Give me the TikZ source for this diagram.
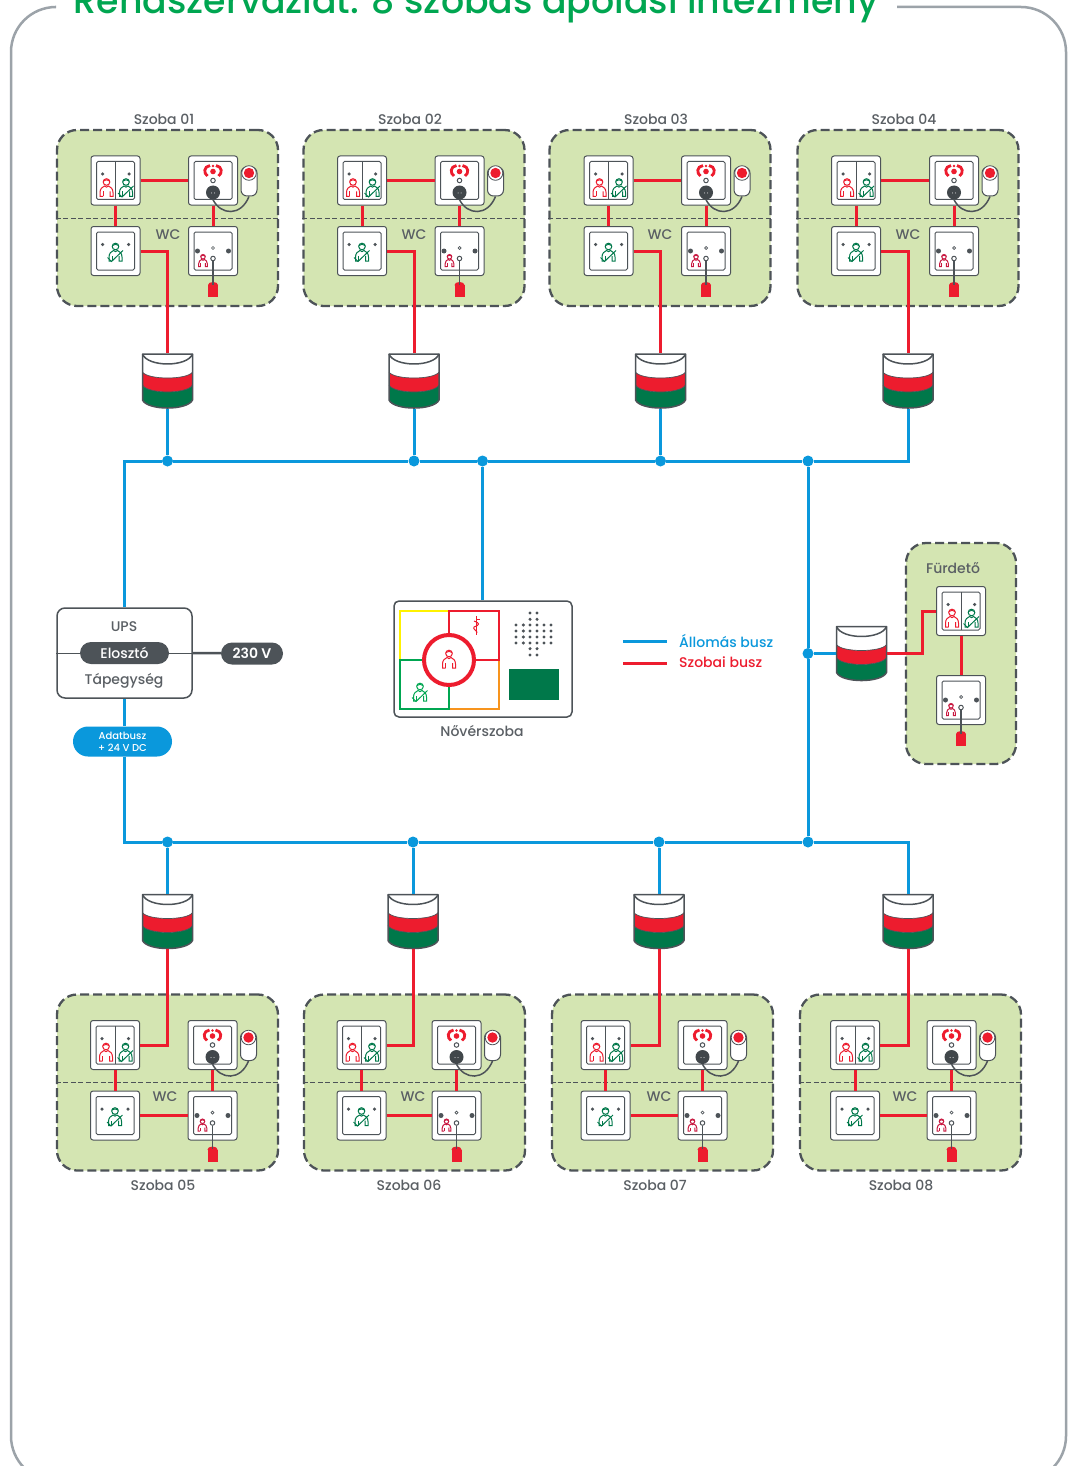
\documentclass[tikz,border=0pt]{standalone}
\usepackage{fontspec}
\setmainfont{Poppins Medium}[BoldFont={Poppins SemiBold}]
\usetikzlibrary{positioning}
\definecolor{busblue}{HTML}{0A98DC}
\definecolor{busred}{HTML}{ED1C2E}
\definecolor{darkgreen}{HTML}{00784A}
\definecolor{titlegreen}{HTML}{00A651}
\definecolor{roomgreen}{HTML}{D4E5B2}
\definecolor{devgray}{HTML}{4D5358}
\definecolor{textgray}{HTML}{5A5F64}
\definecolor{framegray}{HTML}{9CA3A9}
\definecolor{pullred}{HTML}{C8173F}
\definecolor{nurseyellow}{HTML}{FFF200}
\definecolor{nurseorange}{HTML}{F7941D}
\definecolor{nursegreen}{HTML}{00A651}
\tikzset{
    roomlabel/.style={text=textgray,font=\fontsize{14}{16}\selectfont,inner sep=0pt},
    roombox/.style={draw=devgray,fill=roomgreen,line width=2.3pt,dash pattern=on 9pt off 4pt,rounded corners=20pt,minimum width=221pt,minimum height=176pt,inner sep=0pt},
    wcline/.style={draw=devgray,line width=.8pt,dash pattern=on 5pt off 2.5pt},
    unitbox/.style={draw=devgray,fill=white,line width=1pt,rounded corners=2.5pt,minimum size=49pt,inner sep=0pt},
    unitframe/.style={draw=devgray,line width=1pt,rounded corners=1.5pt},
    unitdot/.style={fill=devgray,circle,minimum size=3.5pt,inner sep=0pt},
    screwdot/.style={fill=devgray,circle,minimum size=5pt,inner sep=0pt},
    ringdot/.style={draw=devgray,fill=white,circle,line width=1pt,minimum size=4.5pt,inner sep=0pt},
    jackdot/.style={fill=devgray!85!black,circle,minimum size=14pt,inner sep=0pt},
    pushbox/.style={draw=devgray,fill=white,line width=1pt,rounded corners=6pt,minimum width=16pt,minimum height=29pt,inner sep=0pt},
    plugbox/.style={fill=busred,minimum width=10pt,minimum height=12pt,inner sep=0pt},
    cordline/.style={draw=devgray,line width=1.5pt},
    lampbox/.style={minimum width=50pt,minimum height=55pt,inner sep=0pt},
    lampline/.style={draw=devgray,line width=1.5pt,line join=round},
    roombus/.style={draw=busred,line width=3pt},
    stationbus/.style={draw=busblue,line width=3pt},
    busdot/.style={fill=busblue,circle,minimum size=11pt,inner sep=0pt},
    upsbox/.style={draw=devgray,fill=white,line width=1.5pt,rounded corners=8pt,minimum width=135pt,minimum height=90pt,inner sep=0pt},
    darkpill/.style={fill=devgray,text=white,rounded corners=11pt,minimum height=22pt,inner sep=0pt,font=\fontsize{14}{16}\selectfont},
    pics/carer/.style={code={
        \draw[draw=#1,line width=1pt] (0,-5.5) circle[radius=3.3];
        \draw[draw=#1,line width=1pt] (-3.3,-6.5) .. controls (-1,-8) and (1,-8) .. (3.3,-6.5);
        \draw[draw=#1,line width=1pt] (-3.5,9) -- (-6.5,9) -- (-6.5,5) .. controls (-6.5,1) and (-4,-.5) .. (-2,-1.5) .. controls (-1,0) and (1,0) .. (2,-1.5) .. controls (4,-.5) and (6.5,1) .. (6.5,5) -- (6.5,9) -- (3.5,9) -- (3.5,4);
        \draw[draw=#1,line width=1pt] (-3.5,9) -- (-3.5,4);
    }},
    pics/carertick/.style={code={
        \pic {carer=#1};
        \draw[draw=#1,line width=1pt] (-8,5.5) -- (-4,9.5) -- (7.5,-1.5);
    }}
}
% one push unit per room
\newcommand{\dualunit}[3]{
    \begin{scope}[shift={(#2,#3)}]
        \node[unitbox] (#1) at (0,0) {};
        \draw[unitframe] (-19,-19) rectangle (19,19);
        \draw[unitframe] (0,-19) -- (0,19);
        \node[unitdot] (#1a) at (-13,-6.5) {};
        \node[unitdot] (#1b) at (13.5,-6.5) {};
        \pic at (-9,7) {carer=busred};
        \pic at (10.5,7) {carertick=darkgreen};
    \end{scope}
}
\newcommand{\cancelunit}[3]{
    \begin{scope}[shift={(#2,#3)}]
        \node[unitbox] (#1) at (0,0) {};
        \draw[unitframe] (-19,-19) rectangle (19,19);
        \node[unitdot] (#1a) at (-13,-6.5) {};
        \node[unitdot] (#1b) at (13,-6.5) {};
        \pic at (0,1) {carertick=darkgreen};
    \end{scope}
}
\newcommand{\callunit}[3]{
    \begin{scope}[shift={(#2,#3)}]
        \node[unitbox] (#1) at (0,0) {};
        \draw[unitframe] (-19,-19) rectangle (19,19);
        \fill[busred] (0,-9) circle[radius=2.8];
        \fill[busred] (0,-14.5) circle[radius=1.3];
        \draw[draw=busred,line width=2.8pt] (-3,-15) .. controls (-9.5,-14) and (-9.5,-7) .. (-5.5,-4.5);
        \draw[draw=busred,line width=2.8pt] (3,-15) .. controls (9.5,-14) and (9.5,-7) .. (5.5,-4.5);
        \node[ringdot] (#1r) at (0,0) {};
        \node[jackdot] (#1j) at (0,12) {};
        \fill[white] (-1.5,12.5) circle[radius=.5] (1.5,12.5) circle[radius=.5];
        \node[pushbox] (#1p) at (36,1) {};
        \draw[draw=devgray,line width=.8pt,fill=white] (36,-7.5) circle[radius=7.3];
        \fill[busred] (36,-7.5) circle[radius=5.2];
        \draw[cordline] (#1j.south) .. controls (8,35) and (28,36) .. (#1p.south);
    \end{scope}
}
\newcommand{\pullunit}[3]{
    \begin{scope}[shift={(#2,#3)}]
        \node[unitbox] (#1) at (0,0) {};
        \draw[unitframe] (-19,-19) rectangle (19,19);
        \node[screwdot] (#1a) at (-15.5,0) {};
        \node[screwdot] (#1b) at (15.5,0) {};
        \node[draw=devgray,circle,line width=.7pt,minimum size=3pt,inner sep=0pt] (#1r) at (0,-3) {};
        \pic[scale=.68] at (-10,9.5) {carer=pullred};
        \node[ringdot] (#1j) at (0,7.5) {};
        \node[plugbox] (#1c) at (0,40) {};
        \fill[busred] (0,34) ellipse[x radius=5,y radius=3];
        \draw[cordline] (#1j.south) -- (#1c.north);
    \end{scope}
}
\newcommand{\lampunit}[3]{
    \begin{scope}[shift={(#2,#3)}]
        \node[lampbox] (#1) at (0,0) {};
        \fill[white] (-25,-27.5) -- (25,-27.5) -- (25,-9) -- (-25,-9) -- cycle;
        \fill[busred] (-25,-9) -- (-25,4) .. controls (-20,13.3) and (20,13.3) .. (25,4) -- (25,-9) .. controls (20,-1) and (-20,-1) .. cycle;
        \fill[darkgreen] (-25,4) -- (-25,19) .. controls (-20,29.7) and (20,29.7) .. (25,19) -- (25,4) .. controls (20,13.3) and (-20,13.3) .. cycle;
        \draw[lampline,line width=.7pt] (-25,-9) .. controls (-20,-1) and (20,-1) .. (25,-9);
        \draw[lampline,line width=.7pt] (-25,4) .. controls (-20,13.3) and (20,13.3) .. (25,4);
        \draw[lampline] (-25,-27) .. controls (-20,-13.7) and (20,-13.7) .. (25,-27);
        \draw[lampline] (-25,19) -- (-25,-27) -- (25,-27) -- (25,19) .. controls (20,29.7) and (-20,29.7) .. cycle;
    \end{scope}
}
% room panel: number, panel centre, first and second unit column
\newcommand{\szobaunits}[5]{
    \node[roombox] (room#1) at (#2,#3) {};
    \draw[wcline] (room#1.west) -- (room#1.east);
    \dualunit{a#1}{#4}{#3-37.5}
    \callunit{b#1}{#5}{#3-37.5}
    \cancelunit{c#1}{#4}{#3+33}
    \pullunit{d#1}{#5}{#3+33}
    \draw[roombus] (a#1) -- (c#1);
    \draw[roombus] (b#1) -- (d#1);
}
\begin{document}
\begin{tikzpicture}[x=1pt,y=-1pt]
    \useasboundingbox (0,0) rectangle (1073,1466);
    \fill[white] (0,0) rectangle (1073,1466);
    \draw[draw=framegray,line width=2.5pt,rounded corners=45pt] (55,7) -- (11,7) -- (11,1481) -- (1066,1481) -- (1066,7) -- (897,7);
    \node[anchor=base,text=titlegreen,font=\fontsize{36.3}{40}\selectfont,inner sep=0pt] (title) at (476,14) {Rendszervázlat: 8 szobás ápolási intézmény};

    \szobaunits{1}{167.5}{218}{115.5}{213}
    \szobaunits{2}{414}{218}{362}{459.5}
    \szobaunits{3}{660}{218}{608.5}{706}
    \szobaunits{4}{908}{218}{856}{954}
    \szobaunits{5}{167.5}{1082.5}{115}{212.5}
    \szobaunits{6}{414.5}{1082.5}{361.5}{456.5}
    \szobaunits{7}{662.5}{1082.5}{605.5}{702.5}
    \szobaunits{8}{910.5}{1082.5}{855}{951.5}

    \node[roomlabel] (name1) at (164,119) {Szoba 01};
    \node[roomlabel] (name2) at (410,119) {Szoba 02};
    \node[roomlabel] (name3) at (656,119) {Szoba 03};
    \node[roomlabel] (name4) at (904,119) {Szoba 04};
    \node[roomlabel] (name5) at (163,1185) {Szoba 05};
    \node[roomlabel] (name6) at (409,1185) {Szoba 06};
    \node[roomlabel] (name7) at (655,1185) {Szoba 07};
    \node[roomlabel] (name8) at (901,1185) {Szoba 08};
    \node[roomlabel] (wc1) at (168,234.5) {WC};
    \node[roomlabel] (wc2) at (414,234.5) {WC};
    \node[roomlabel] (wc3) at (660,234.5) {WC};
    \node[roomlabel] (wc4) at (908,234.5) {WC};
    \node[roomlabel] (wc5) at (165,1096.5) {WC};
    \node[roomlabel] (wc6) at (413,1096.5) {WC};
    \node[roomlabel] (wc7) at (659,1096.5) {WC};
    \node[roomlabel] (wc8) at (905,1096.5) {WC};

    \lampunit{lamp1}{167.5}{381}
    \lampunit{lamp2}{414}{381}
    \lampunit{lamp3}{660.5}{381}
    \lampunit{lamp4}{908}{381}
    \lampunit{lamp5}{167.5}{921.5}
    \lampunit{lamp6}{413}{921.5}
    \lampunit{lamp7}{659}{921.5}
    \lampunit{lamp8}{908}{921.5}
    \lampunit{lamp9}{861.5}{653.5}

    \draw[roombus] (a1) -- (b1);
    \draw[roombus] (a2) -- (b2);
    \draw[roombus] (a3) -- (b3);
    \draw[roombus] (a4) -- (b4);
    \draw[roombus] (c1.east) -| (lamp1.north);
    \draw[roombus] (c2.east) -| (lamp2.north);
    \draw[roombus] (c3.east) -| (lamp3.north);
    \draw[roombus] (c4.east) -| (lamp4.north);
    \draw[roombus] (lamp5.south) |- (a5.east);
    \draw[roombus] (lamp6.south) |- (a6.east);
    \draw[roombus] (lamp7.south) |- (a7.east);
    \draw[roombus] (lamp8.south) |- (a8.east);
    \draw[roombus] (c5) -- (d5);
    \draw[roombus] (c6) -- (d6);
    \draw[roombus] (c7) -- (d7);
    \draw[roombus] (c8) -- (d8);

    % bathroom
    \node[roombox,minimum width=110pt,minimum height=221pt] (furdo) at (961,653.5) {};
    \node[roomlabel] (furdoname) at (953,568) {Fürdető};
    \dualunit{f1}{961}{611}
    \pullunit{f2}{961}{700}
    \coordinate (furdobend) at (922,611);
    \draw[roombus] (lamp9.east) -| (furdobend) -- (f1.west);
    \draw[roombus] (f1) -- (f2);

    % power supply
    \node[upsbox] (ups) at (124.5,653) {};
    \node[roomlabel] (upsname) at (124,627) {UPS};
    \node[roomlabel] (tap) at (124,681) {Tápegység};
    \node[darkpill,minimum width=89pt] (eloszto) at (124.5,653) {Elosztó};
    \node[darkpill,minimum width=62pt,font=\fontsize{14}{16}\selectfont\bfseries] (volt) at (252,653.5) {230 V};
    \draw[draw=devgray,line width=1pt] (ups.west) -- (eloszto);
    \draw[draw=devgray,line width=1pt] (eloszto) -- (ups.east);
    \draw[draw=devgray,line width=2.5pt] (ups.east) -- (volt);
    \node[fill=busblue,text=white,rounded corners=15pt,minimum width=99pt,minimum height=30pt,inner sep=0pt,align=center,font=\fontsize{10}{12}\selectfont] (adat) at (122.5,741.5) {Adatbusz\\+ 24 V DC};

    % nurse room
    \node[draw=devgray,fill=white,line width=1.5pt,rounded corners=5pt,minimum width=178pt,minimum height=116pt,inner sep=0pt] (nurse) at (483,659) {};
    \draw[draw=nurseyellow,line width=2pt] (400,611) rectangle (449,659.5);
    \draw[draw=nurseorange,line width=2pt] (449,660) rectangle (499,709);
    \draw[draw=nursegreen,line width=2pt] (400,660) rectangle (449,709);
    \draw[draw=busred,line width=2pt] (449,611) rectangle (499,659.5);
    \draw[draw=busred,line width=1pt] (476,616) -- (476,635);
    \draw[draw=busred,line width=1pt] (474,621) .. controls (480,623) and (480,625) .. (474,627) .. controls (472,629) and (478,631) .. (477,633);
    \draw[draw=busred,line width=1pt] (476,619) -- (480,619);
    \pic at (420,692) {carertick=nursegreen};
    \draw[draw=busred,fill=white,line width=4pt] (449,660) circle[radius=25];
    \pic at (449,659) {carer=busred};
    \foreach \x in {530,537} \foreach \y in {613,619.3,648.7,655} \fill[devgray] (\x,\y) circle[radius=1.7];
    \foreach \x in {516,523.3,530,537,544,551} \foreach \y in {625,631,637,643} \fill[devgray] (\x,\y) circle[radius=1.7];
    \fill[darkgreen] (509,669) rectangle (559,700);
    \node[roomlabel] (nursename) at (482,731) {Nővérszoba};

    % station bus
    \node[busdot] (t1) at (167.5,461) {};
    \node[busdot] (t2) at (414,461) {};
    \node[busdot] (t3) at (482.5,461) {};
    \node[busdot] (t4) at (660.5,461) {};
    \node[busdot] (t5) at (808,461) {};
    \node[busdot] (b1) at (167.5,842) {};
    \node[busdot] (b2) at (413,842) {};
    \node[busdot] (b3) at (659,842) {};
    \node[busdot] (b4) at (808,842) {};
    \node[busdot] (m1) at (808,653.5) {};
    \draw[stationbus] (ups.north) |- (t1);
    \draw[stationbus] (t1) -- (t2);
    \draw[stationbus] (t2) -- (t3);
    \draw[stationbus] (t3) -- (t4);
    \draw[stationbus] (t4) -- (t5);
    \draw[stationbus] (t5) -| (lamp4.south);
    \draw[stationbus] (t1) -- (lamp1.south);
    \draw[stationbus] (t2) -- (lamp2.south);
    \draw[stationbus] (t4) -- (lamp3.south);
    \draw[stationbus] (t3) -- (nurse.north -| t3);
    \draw[stationbus] (t5) -- (m1);
    \draw[stationbus] (m1) -- (b4);
    \draw[stationbus] (m1) -- (lamp9.west);
    \draw[stationbus] (ups.south) -- (ups.south |- adat.north);
    \draw[stationbus] (ups.south |- adat.south) |- (b1);
    \draw[stationbus] (b1) -- (b2);
    \draw[stationbus] (b2) -- (b3);
    \draw[stationbus] (b3) -- (b4);
    \draw[stationbus] (b4) -| (lamp8.north);
    \draw[stationbus] (b1) -- (lamp5.north);
    \draw[stationbus] (b2) -- (lamp6.north);
    \draw[stationbus] (b3) -- (lamp7.north);

    % legend
    \coordinate (lega) at (623,641);
    \coordinate (legb) at (667,641);
    \coordinate (legc) at (623,663);
    \coordinate (legd) at (667,663);
    \draw[stationbus] (lega) -- (legb);
    \draw[roombus] (legc) -- (legd);
    \node[roomlabel,anchor=west,text=busblue] (legblue) at (679,640.5) {Állomás busz};
    \node[roomlabel,anchor=west,text=busred] (legred) at (679,662.5) {Szobai busz};
\end{tikzpicture}
\end{document}
